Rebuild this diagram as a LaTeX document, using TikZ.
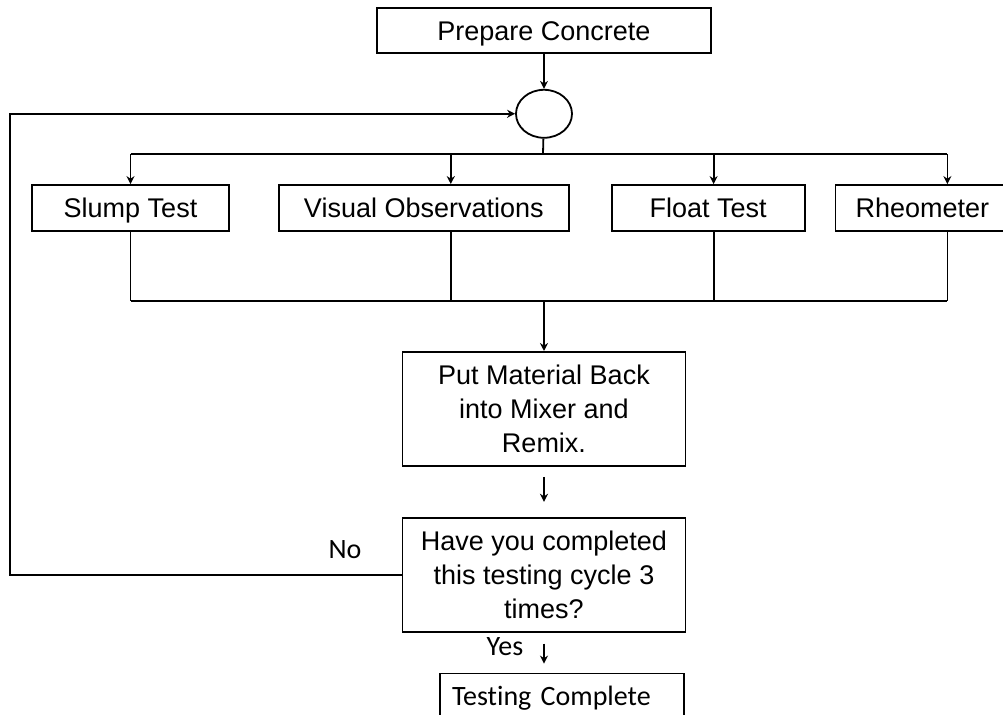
\documentclass[tikz,border=0pt]{standalone}
\usepackage{fontspec}
\setmainfont{Liberation Sans}
\newfontfamily\calfont[Ligatures=NoCommon]{Carlito}
\usetikzlibrary{positioning,arrows.meta,shapes.geometric}

\begin{document}
\begin{tikzpicture}[
        x=1pt, y=-1pt,
        line width=0.9pt,
        box/.style={draw, rectangle, minimum height=23pt, inner sep=2pt,
                    font=\fontsize{13.5}{17}\selectfont, align=center},
        onebox/.style={box, text height=9.7pt, text depth=0pt},
        lbl/.style={font=\calfont\fontsize{14}{17}\selectfont},
        arr/.style={-{Stealth[length=4pt,width=4pt]}}
    ]
        \useasboundingbox (0,0) rectangle (501.5,357.5);

        \node[onebox, minimum width=167pt, minimum height=22.5pt] (prep) at (272,15.25) {Prepare Concrete};
        \node[draw, ellipse, minimum width=28pt, minimum height=24pt, inner sep=0pt,
              below=17.5pt of prep] (junc) {};

        \node[onebox, minimum width=98.5pt] (slump) at (65.25,104) {Slump Test};
        \node[onebox, minimum width=145pt, right=24pt of slump]  (visual) {Visual Observations};
        \node[onebox, minimum width=96.5pt, right=20.5pt of visual] (float) {Float Test};
        \node[onebox, minimum width=87pt, right=14.5pt of float]  (rheo) {Rheometer};

        \coordinate (topbus) at (271.5,77);
        \coordinate (botbus) at (272,150.5);

        \node[box, minimum width=141.5pt, minimum height=57pt, below=25pt of botbus] (mix)
            {Put Material Back\\into Mixer and\\Remix.};
        \node[box, minimum width=141.5pt, minimum height=57pt, below=25pt of mix] (check)
            {Have you completed\\this testing cycle 3\\times?};
        \node[onebox, lbl, minimum height=22.5pt, inner xsep=6pt, text width=110pt, align=left,
              below=20pt of check, xshift=9pt] (done) {Testing Complete};

        \node[lbl] (no)  at (172.5,275)   {No};
        \node[lbl] (yes) at (252.5,323.5) {Yes};
        \coordinate (loopx) at (5,200);

        \draw[arr] (prep) -- (junc);
        \draw (junc) -- (topbus);
        \draw (slump.north |- topbus) -- ([xshift=12.5pt]rheo.north |- topbus);
        \draw (slump.south |- botbus) -- ([xshift=12.5pt]rheo.south |- botbus);
        \foreach \n/\s in {slump/0, visual/13.5, float/2.75, rheo/12.5} {
            \draw[arr] ([xshift=\s pt]\n.north |- topbus) -- ([xshift=\s pt]\n.north);
            \draw ([xshift=\s pt]\n.south) -- ([xshift=\s pt]\n.south |- botbus);
        }
        \draw[arr] (botbus) -- (mix);
        \draw[arr] ([yshift=-5pt]mix.south) -- ([yshift=7.5pt]check.north);
        \draw[arr] ([yshift=-5.5pt]check.south) -- ([yshift=4.5pt]done.north -| check.south);
        \draw[arr] (check.west) -| (loopx) |- (junc.west);
    \end{tikzpicture}
\end{document}
